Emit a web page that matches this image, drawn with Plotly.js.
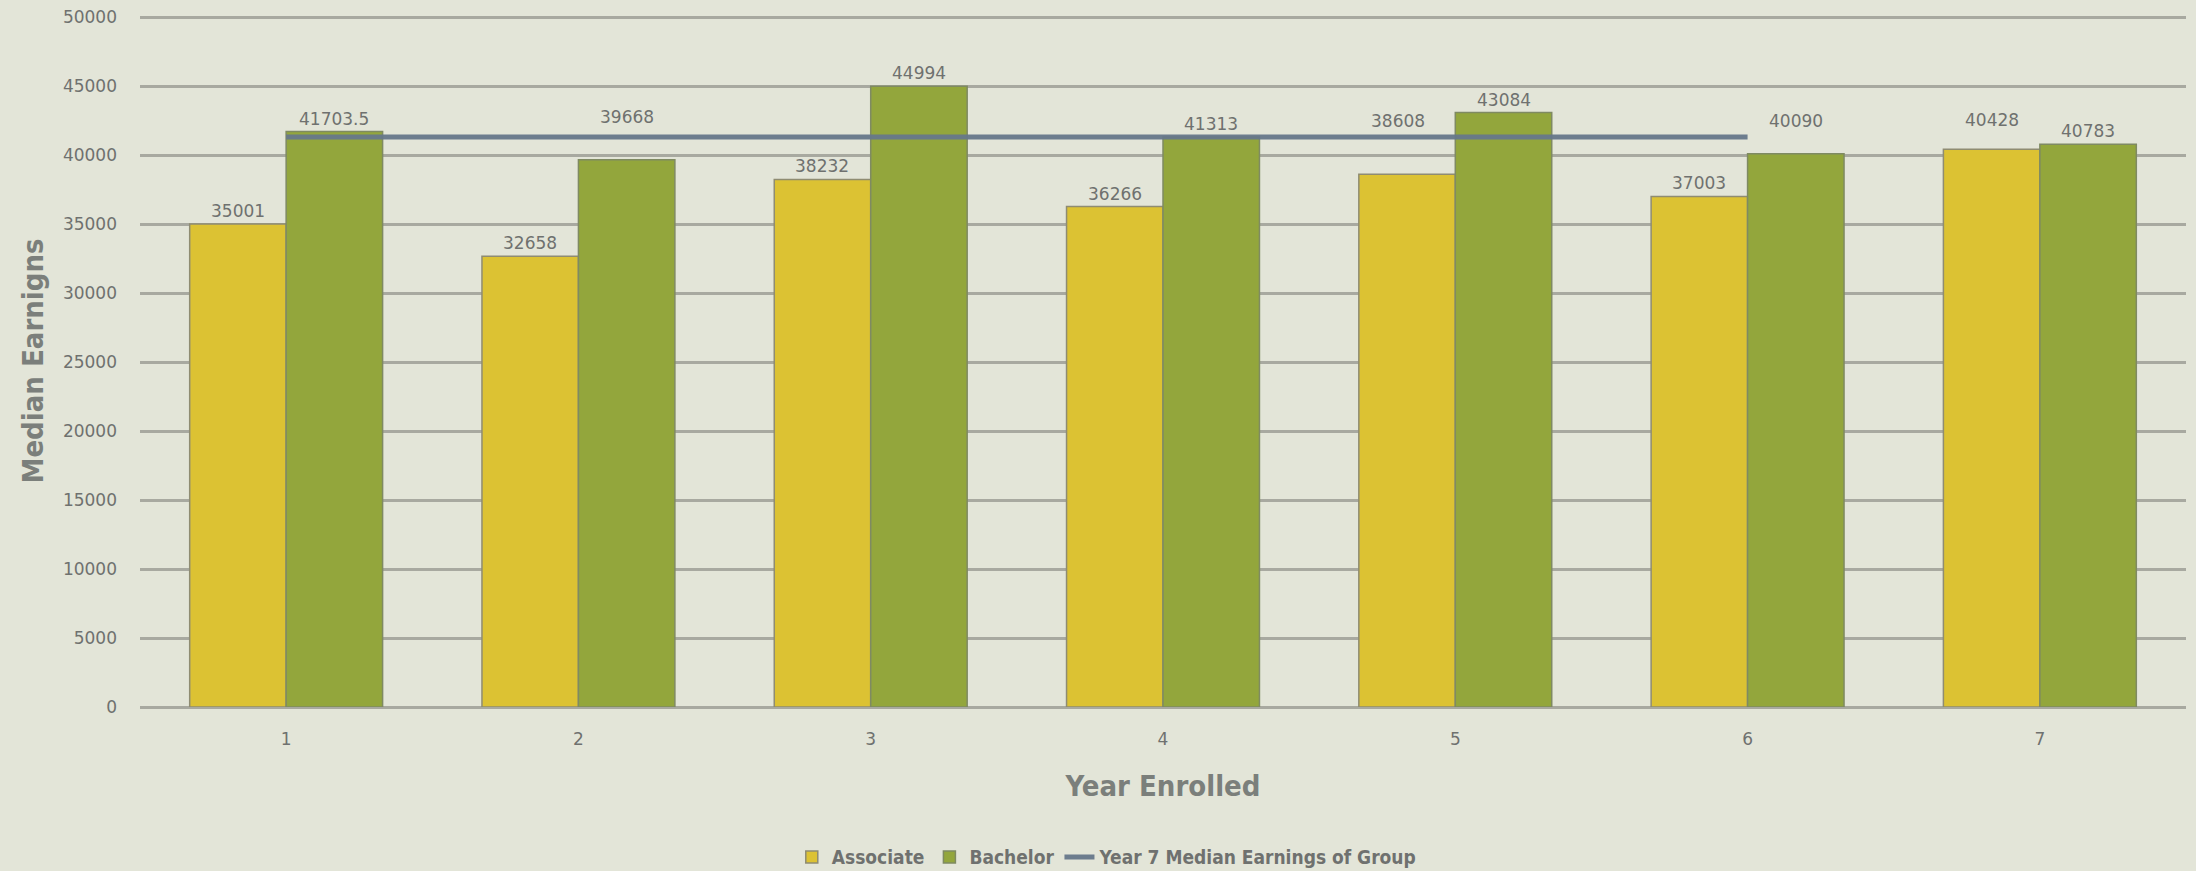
<!DOCTYPE html>
<html>
<head>
<meta charset="utf-8">
<script src="https://cdn.plot.ly/plotly-3.0.1.min.js"></script>
<style>
  html, body { margin: 0; padding: 0; background: #e3e5d8; }
  #chart { width: 2196px; height: 871px; }
</style>
</head>
<body>
<div id="chart"></div>
<script>
// ---- data ----
const years = ['1', '2', '3', '4', '5', '6', '7'];
const associate = [35001, 32658, 38232, 36266, 38608, 37003, 40428];
const bachelor = [41703.5, 39668, 44994, 41313, 43084, 40090, 40783];
const groupYears = ['1', '2', '3', '4', '5', '6'];
const groupMedian = [41313, 41313, 41313, 41313, 41313, 41313];
const seriesNames = ['Associate', 'Bachelor', 'Year 7 Median Earnings of Group'];

// ---- style ----
const FONT = '"DejaVu Sans", "Open Sans", sans-serif';
const CFONT = '"DejaVu Sans Condensed", "Open Sans", sans-serif';
const TXT = '#6f716f';
const BARGAP = 0.34;
const half = (1 - BARGAP) / 4;
// extra vertical lift (px) of labels that were moved above the line
const liftA = [0, 0, 0, 0, 40, 0, 16];
const liftB = [0, 30, 0, 0, 0, 20, 0];
const shiftA = [0, 0, 0, 0, -9, 0, 0];

const traces = [
  {
    type: 'bar', name: seriesNames[0], x: years, y: associate,
    marker: { color: '#dcc233', line: { color: '#8f8c72', width: 1.5 } },
    hoverinfo: 'x+y'
  },
  {
    type: 'bar', name: seriesNames[1], x: years, y: bachelor,
    marker: { color: '#93a63c', line: { color: '#7f8a62', width: 1.5 } },
    hoverinfo: 'x+y'
  },
  {
    type: 'scatter', mode: 'lines', name: seriesNames[2], x: groupYears, y: groupMedian,
    line: { color: '#66778a', width: 5 }, opacity: 0.95
  }
];

const annotations = [];
years.forEach((yr, i) => {
  annotations.push({
    x: i - half, y: associate[i], xref: 'x', yref: 'y',
    text: String(associate[i]), showarrow: false,
    yanchor: 'bottom', yshift: 1 + liftA[i], xshift: shiftA[i],
    font: { family: FONT, size: 17, color: TXT }
  });
  annotations.push({
    x: i + half, y: bachelor[i], xref: 'x', yref: 'y',
    text: String(bachelor[i]), showarrow: false,
    yanchor: 'bottom', yshift: 1 + liftB[i],
    font: { family: FONT, size: 17, color: TXT }
  });
});

const layout = {
  width: 2196, height: 871,
  paper_bgcolor: '#e3e5d8', plot_bgcolor: '#e3e5d8',
  margin: { l: 140, r: 10, t: 15, b: 164 },
  barmode: 'group', bargap: BARGAP, bargroupgap: 0,
  font: { family: FONT, color: TXT },
  showlegend: true,
  legend: {
    orientation: 'h', xref: 'container', yref: 'container',
    x: 0.504, xanchor: 'center', y: 0.016, yanchor: 'middle',
    font: { family: CFONT, size: 19, color: TXT, weight: 'bold' },
    itemwidth: 30, tracegroupgap: 0, bgcolor: 'rgba(0,0,0,0)'
  },
  xaxis: {
    type: 'category', showgrid: false, zeroline: false, showline: false,
    ticks: '', ticklabelstandoff: 20,
    tickfont: { family: FONT, size: 17, color: TXT },
    title: { text: '<b>Year Enrolled</b>', standoff: 27,
      font: { family: CFONT, size: 29, color: '#7b7f7b' } }
  },
  yaxis: {
    range: [0, 50150], dtick: 5000, tick0: 0,
    showgrid: true, gridcolor: '#a8a9a0', gridwidth: 3,
    zeroline: true, zerolinecolor: '#a8a9a0', zerolinewidth: 3,
    showline: false, ticks: '', ticklabelstandoff: 22,
    tickformat: 'd',
    tickfont: { family: FONT, size: 17, color: TXT },
    title: { text: '<b>Median Earnigns</b>', standoff: 10,
      font: { family: CFONT, size: 29, color: '#7b7f7b' } }
  },
  annotations: annotations
};

Plotly.newPlot('chart', traces, layout, { displayModeBar: false, staticPlot: true });
</script>
</body>
</html>
